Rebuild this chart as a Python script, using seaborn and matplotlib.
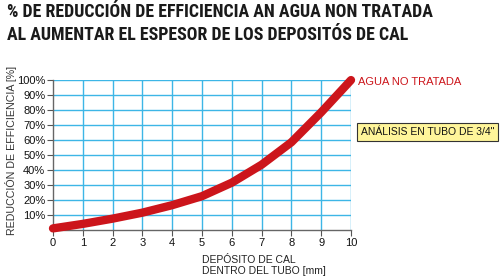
import matplotlib
matplotlib.use("Agg")
import matplotlib.pyplot as plt
import seaborn as sns
import pandas as pd

# Data
deposito_mm = [0, 1, 2, 3, 4, 5, 6, 7, 8, 9, 10]
reduccion_pct = [1, 4, 7.5, 11.5, 16.5, 22.5, 31.5, 43.5, 58.5, 78.5, 100]
y_ticks = [10, 20, 30, 40, 50, 60, 70, 80, 90, 100]
y_tick_labels = [f"{v}%" for v in y_ticks]
x_ticks = list(range(0, 11))

title_line1 = "% DE REDUCCIÓN DE EFFICIENCIA AN AGUA NON TRATADA"
title_line2 = "AL AUMENTAR EL ESPESOR DE LOS DEPOSITÓS DE CAL"
ylabel_text = "REDUCCIÓN DE EFFICIENCIA [%]"
xlabel_text = "DEPÓSITO DE CAL\nDENTRO DEL TUBO [mm]"
series_label = "AGUA NO TRATADA"
note_text = "ANÁLISIS EN TUBO DE 3/4\""

sns.set_theme(style="white")
plt.rcParams['font.family'] = ['Liberation Sans', 'DejaVu Sans']

df = pd.DataFrame({"x": deposito_mm, "y": reduccion_pct})

fig = plt.figure(figsize=(5, 2.8), dpi=100)
ax = fig.add_axes([0.106, 0.179, 0.596, 0.535])

grid_color = "#3db6e6"
for t in x_ticks[1:]:
    ax.axvline(t, color=grid_color, lw=1.0, zorder=1)
for t in y_ticks:
    ax.axhline(t, color=grid_color, lw=1.0, zorder=1)

red = "#cc151b"
sns.lineplot(data=df, x="x", y="y", ax=ax, color=red, lw=6,
             solid_capstyle="round", solid_joinstyle="round", zorder=3, clip_on=False)

ax.set_xlim(0, 10)
ax.set_ylim(0, 100)
ax.set_xticks(x_ticks)
ax.set_xticklabels([str(v) for v in x_ticks])
ax.set_yticks(y_ticks)
ax.set_yticklabels(y_tick_labels)
ax.tick_params(axis="both", which="both", length=4, width=0.8, color="#555555",
               labelsize=8, labelcolor="#111111", pad=1.5, direction="out",
               bottom=True, left=True)
for s in ["top", "right"]:
    ax.spines[s].set_visible(False)
for s in ["left", "bottom"]:
    ax.spines[s].set_color("#666666")
    ax.spines[s].set_linewidth(1.0)
ax.set_xlabel("")
ax.set_ylabel("")

# Title (condensed bold), fitted to reference width
title_family = ["Roboto Condensed", "Archivo Narrow", "Barlow Condensed", "DejaVu Sans"]
t1 = fig.text(0.014, 1 - 12 / 280, title_line1, ha="left", va="center", fontsize=13,
              fontweight="bold", family=title_family, color="#1a1a1a")
t2 = fig.text(0.014, 1 - 35.5 / 280, title_line2, ha="left", va="center", fontsize=13,
              fontweight="bold", family=title_family, color="#1a1a1a")
fig.canvas.draw()
r = fig.canvas.get_renderer()
w1 = t1.get_window_extent(r).width
fs = 13 * 426.0 / w1
t1.set_fontsize(fs)
t2.set_fontsize(fs)

fig.text(0.022, 0.464, ylabel_text, rotation=90, ha="center", va="center",
         fontsize=7.7, color="#333333")

fig.text(0.405, 0.015, xlabel_text, ha="left", va="bottom", fontsize=7.5,
         color="#222222", linespacing=1.1)

fig.text(0.716, 0.708, series_label, ha="left", va="center", fontsize=8,
         color=red)

fig.text(0.722, 0.529, note_text, ha="left", va="center", fontsize=7.5,
         color="#111111",
         bbox=dict(boxstyle="square,pad=0.35", fc="#fff59a", ec="#333333", lw=0.8))

fig.savefig("out.png", dpi=100)
